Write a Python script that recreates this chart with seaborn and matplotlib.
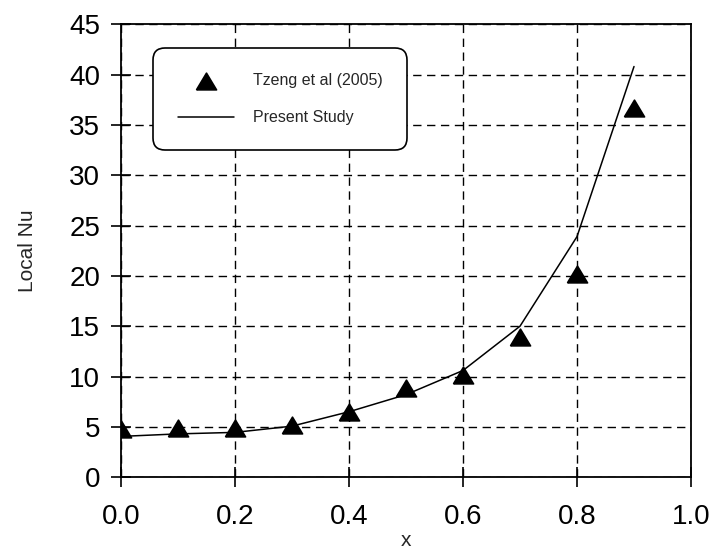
import matplotlib
matplotlib.use("Agg")
import matplotlib.pyplot as plt
import numpy as np
import pandas as pd
import seaborn as sns

# data
x_pos = [0.0, 0.1, 0.2, 0.3, 0.4, 0.5, 0.6, 0.7, 0.8, 0.9]
nu_tzeng = [4.8, 4.9, 4.9, 5.2, 6.5, 8.9, 10.2, 13.9, 20.2, 36.7]
nu_present = [4.05, 4.3, 4.45, 5.07, 6.5, 8.2, 10.6, 15.0, 23.9, 40.8]
x_ticks = [0.0, 0.2, 0.4, 0.6, 0.8, 1.0]
y_ticks = [0, 5, 10, 15, 20, 25, 30, 35, 40, 45]

df = pd.DataFrame({"x": x_pos, "tzeng": nu_tzeng, "present": nu_present})

sns.set_style("ticks")
plt.rcParams['font.family'] = ['Liberation Sans', 'DejaVu Sans']

fig = plt.figure(figsize=(7.12, 5.51), dpi=100)
ax = fig.add_axes([0.17, 0.134, 0.8005, 0.822])

# wide triangle marker
tri = [(-0.6, -0.5), (0.6, -0.5), (0.0, 0.5), (-0.6, -0.5)]

sns.lineplot(data=df, x="x", y="present", ax=ax, color="black", linewidth=1.1,
             label="Present Study", zorder=3)
sns.scatterplot(data=df, x="x", y="tzeng", ax=ax, marker=tri, s=210, color="black",
                edgecolor="black", label="Tzeng et al (2005)", zorder=4)

ax.set_xlim(0, 1.0)
ax.set_ylim(0, 45)
ax.set_xticks(x_ticks)
ax.set_yticks(y_ticks)
ax.set_xticklabels([f"{t:.1f}" for t in x_ticks])
ax.tick_params(direction="inout", length=14, width=1.2, labelsize=20,
               color="black", labelcolor="black")
ax.tick_params(axis="x", pad=12)
ax.tick_params(axis="y", pad=8)
for s in ax.spines.values():
    s.set_linewidth(1.3)
    s.set_color("black")

ax.grid(True, color="black", linestyle=(0, (6, 4)), linewidth=1.0)
ax.set_axisbelow(True)

ax.set_xlabel("x", fontsize=15, labelpad=1)
ax.set_ylabel("Local Nu", fontsize=15, labelpad=23)

handles, labels = ax.get_legend_handles_labels()
order = [labels.index("Tzeng et al (2005)"), labels.index("Present Study")]
leg = ax.legend([handles[i] for i in order], [labels[i] for i in order],
                loc="upper left", bbox_to_anchor=(0.056, 0.947), fontsize=11.5,
                frameon=True, fancybox=True, framealpha=1, edgecolor="black",
                borderpad=1.55, labelspacing=1.4, handlelength=3.5, handletextpad=1.2,
                borderaxespad=0)
leg.get_frame().set_linewidth(1.2)
leg.get_frame().set_boxstyle("round", pad=0, rounding_size=0.75)

fig.savefig("out.png", dpi=100)
